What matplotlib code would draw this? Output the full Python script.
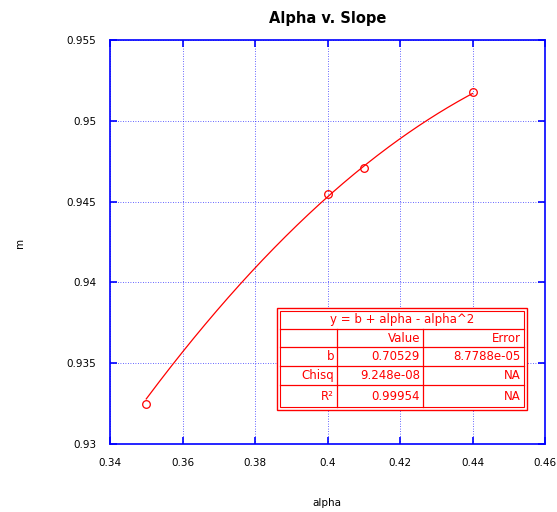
import numpy as np
import matplotlib
matplotlib.use("Agg")
import matplotlib.pyplot as plt
from matplotlib.patches import Rectangle

alpha = [0.35, 0.40, 0.41, 0.44]
slope = [0.9325, 0.9455, 0.9471, 0.9518]
b_fit = 0.70529
fit_rows = [["b", "0.70529", "8.7788e-05"],
            ["Chisq", "9.248e-08", "NA"],
            ["R²", "0.99954", "NA"]]
fit_title = "y = b + alpha - alpha^2"
xticks = [0.34, 0.36, 0.38, 0.40, 0.42, 0.44, 0.46]
xticklabels = ["0.34", "0.36", "0.38", "0.4", "0.42", "0.44", "0.46"]
yticks = [0.93, 0.935, 0.94, 0.945, 0.95, 0.955]
yticklabels = ["0.93", "0.935", "0.94", "0.945", "0.95", "0.955"]

W, H = 557, 512
fig = plt.figure(figsize=(W/100, H/100), dpi=100)
ax = fig.add_axes([110/W, 1-444/H, 435/W, 404/H])

blue = "#0000ff"
red = "#ff0000"

xs = np.linspace(min(alpha), max(alpha), 200)
ax.plot(xs, b_fit + xs - xs**2, color=red, lw=0.9)
ax.plot(alpha, slope, 'o', mfc='none', mec=red, ms=5.5, mew=0.9)

ax.set_xlim(0.34, 0.46)
ax.set_ylim(0.93, 0.955)
ax.set_xticks(xticks)
ax.set_xticklabels(xticklabels)
ax.set_yticks(yticks)
ax.set_yticklabels(yticklabels)
ax.grid(True, color=blue, ls=(0, (1, 2)), lw=0.6, alpha=0.8)
for s in ax.spines.values():
    s.set_color(blue)
    s.set_linewidth(1.2)
ax.tick_params(direction='in', length=5, color=blue, width=1.2,
               labelsize=7.5, top=True, right=True, pad=10)
ax.set_title("Alpha v. Slope", fontsize=10.5, fontweight='bold', pad=12)

def px(x, y):
    return x/W, 1-y/H

fig.text(*px(327, 503), "alpha", fontsize=7.5, ha='center', va='center')
fig.text(*px(20, 243), "m", fontsize=7.5, ha='center', va='center', rotation=90)

# fit table in pixel coordinates
tf = fig.transFigure
x0, x1 = 277, 527
y0, y1 = 308, 410
fig.patches.append(Rectangle(px(x0, y1), (x1-x0)/W, (y1-y0)/H, transform=tf,
                             facecolor='white', edgecolor=red, lw=1.0))
fig.patches.append(Rectangle(px(x0+3, y1-3), (x1-x0-6)/W, (y1-y0-6)/H, transform=tf,
                             facecolor='none', edgecolor=red, lw=0.8))
rows_y = [311, 329, 347, 366, 385, 407]
cols_x = [280, 337, 423, 524]
for yy in rows_y[1:-1]:
    fig.add_artist(plt.Line2D([px(280, 0)[0], px(524, 0)[0]], [px(0, yy)[1]]*2,
                              transform=tf, color=red, lw=0.9))
for xx in cols_x[1:-1]:
    fig.add_artist(plt.Line2D([px(xx, 0)[0]]*2, [px(0, 329)[1], px(0, 407)[1]],
                              transform=tf, color=red, lw=0.9))
fs = 8.5
fig.text(*px((x0+x1)/2, (rows_y[0]+rows_y[1])/2), fit_title, color=red,
         fontsize=fs, ha='center', va='center')
fig.text(*px(cols_x[2]-3, (rows_y[1]+rows_y[2])/2), "Value", color=red,
         fontsize=fs, ha='right', va='center')
fig.text(*px(cols_x[3]-3, (rows_y[1]+rows_y[2])/2), "Error", color=red,
         fontsize=fs, ha='right', va='center')
for i, row in enumerate(fit_rows):
    yc = (rows_y[i+2]+rows_y[i+3])/2
    for j, val in enumerate(row):
        fig.text(*px(cols_x[j+1]-3, yc), val, color=red, fontsize=fs,
                 ha='right', va='center')

fig.savefig("out.png", dpi=100, facecolor='white')
